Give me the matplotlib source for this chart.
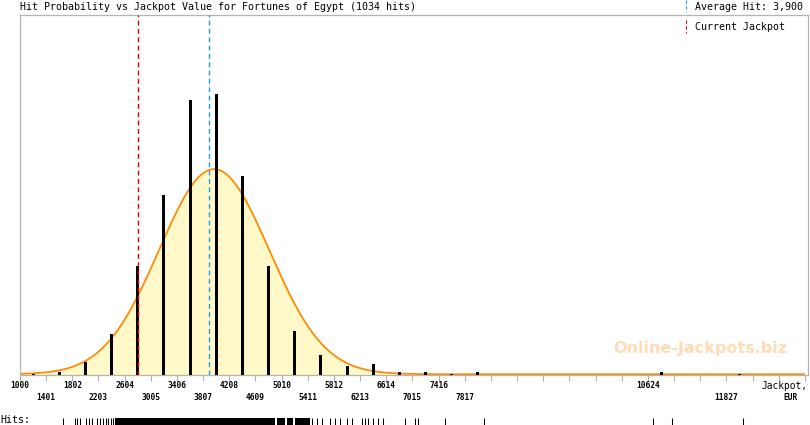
import matplotlib
matplotlib.use("Agg")
import matplotlib.pyplot as plt
import matplotlib.transforms as mtransforms
from matplotlib.lines import Line2D
import numpy as np

W, H = 810, 425

# histogram of hits per jackpot bin (bins of 401 EUR starting at 1000)
bin_start = 1000
bin_width = 401
bin_counts = [1, 2, 10, 32, 86, 142, 217, 222, 157, 86,
              35, 16, 7, 9, 2, 2, 1, 2, 0, 0,
              0, 0, 0, 0, 2, 0, 0, 1, 0, 0]

tick_labels = ["1000", "1401", "1802", "2203", "2604", "3005", "3406", "3807",
               "4208", "4609", "5010", "5411", "5812", "6213", "6614", "7015",
               "7416", "7817", "", "", "", "", "", "", "10624", "", "", "11827",
               "", "", ""]

# fitted normal curve
fit_mean = 3975
fit_sigma = 843
fit_peak = 162

average_hit = 3900
current_jackpot = 2812
total_hits = 1034

# individual hits shown in the rug ("Hits:")
hit_single = [1659, 1843, 1874, 1920, 2011, 2057, 2103, 2180, 2226, 2272, 2318,
              2349, 2395, 2425, 5475, 5552, 5628, 5751, 5827, 5904, 6011, 6088,
              6241, 6287, 6333, 6410, 6486, 6563, 6900, 7053, 7099, 7513, 8111,
              10701, 10992, 12080]
# ranges where hits are so dense the ticks merge
hit_dense = [(2456, 4908), (4939, 5061), (5092, 5184), (5214, 5444)]

x_max = 13076
y_max = 284.4

fig = plt.figure(figsize=(W / 100, H / 100), dpi=100)
ax = fig.add_axes([20 / W, (H - 375) / H, 788 / W, 360 / H])

ticks = [bin_start + bin_width * k for k in range(len(tick_labels))]
centers = [bin_start + bin_width * (i + 0.5) for i in range(len(bin_counts))]

xs = np.linspace(ticks[0], ticks[-1], 800)
curve = fit_peak * np.exp(-0.5 * ((xs - fit_mean) / fit_sigma) ** 2)
ax.fill_between(xs, 0, curve, color="#fff8c8", lw=0, zorder=1)
ax.plot(xs, curve + 0.6, color="#ff8c00", lw=1.3, zorder=2, solid_capstyle="butt")

ax.bar(centers, bin_counts, width=46, color="black", lw=0, zorder=3)

ax.axvline(current_jackpot, color="#dd0000", lw=1.0, ls=(0, (3.5, 2.5)), zorder=4)
ax.axvline(average_hit, color="#1f9be0", lw=1.0, ls=(0, (3.5, 2.5)), zorder=4)

ax.set_xlim(bin_start, x_max)
ax.set_ylim(0, y_max)
ax.set_yticks([])
ax.set_xticks(ticks)
ax.set_xticklabels([])
ax.tick_params(axis="x", direction="out", length=4, width=0.8, color="#b0b0b0")
for s in ["top", "left", "right", "bottom"]:
    ax.spines[s].set_color("#b4b4b4")
    ax.spines[s].set_linewidth(0.9)

# watermark
fig.text(700 / W, 1 - 348 / H, "Online-Jackpots.biz", ha="center", va="center",
         family="DejaVu Sans", fontsize=11.5, fontweight="bold", color="#ffdcb4", zorder=0)

trans = mtransforms.blended_transform_factory(ax.transData, ax.transAxes)
tick_font = dict(family="DejaVu Sans Mono", fontsize=5.7, fontweight="bold")
for k, lab in enumerate(tick_labels):
    if not lab:
        continue
    y = -(386 - 375) / 360 if k % 2 == 0 else -(398 - 375) / 360
    ax.text(ticks[k], y, lab, transform=trans, ha="center", va="center", **tick_font)

mono = dict(family="DejaVu Sans Mono", fontsize=7.2)
fig.text(20 / W, 1 - 7.5 / H,
         "Hit Probability vs Jackpot Value for Fortunes of Egypt (%d hits)" % total_hits,
         ha="left", va="center", **mono)
fig.text(695 / W, 1 - 7.5 / H, "Average Hit: {:,}".format(average_hit),
         ha="left", va="center", **mono)
fig.text(695 / W, 1 - 27 / H, "Current Jackpot", ha="left", va="center", **mono)
fig.add_artist(Line2D([686 / W, 686 / W], [1 - 0 / H, 1 - 12 / H], transform=fig.transFigure,
                      color="#1f9be0", lw=0.8, ls=(0, (3, 2.2))))
fig.add_artist(Line2D([686 / W, 686 / W], [1 - 20 / H, 1 - 33 / H], transform=fig.transFigure,
                      color="#dd0000", lw=0.8, ls=(0, (3, 2.2))))

fig.text(808 / W, 1 - 386 / H, "Jackpot,", ha="right", va="center",
         family="DejaVu Sans Mono", fontsize=6.9)
fig.text(791 / W, 1 - 398 / H, "EUR", ha="center", va="center", **tick_font)

# rug of individual hits
rug = fig.add_axes([20 / W, 0, 788 / W, 7 / H])
rug.set_xlim(bin_start, x_max)
rug.set_ylim(0, 1)
rug.axis("off")
rug.vlines(hit_single, 0, 1, color="black", lw=0.75)
rug.broken_barh([(a, b - a) for a, b in hit_dense], (0, 1), color="black", lw=0)
fig.text(0, 1 - 420 / H, "Hits:", ha="left", va="center", **mono)

fig.savefig("out.png", dpi=100)
